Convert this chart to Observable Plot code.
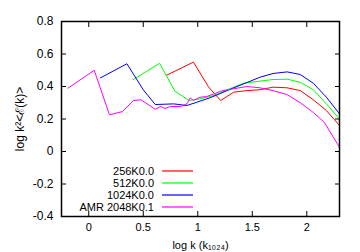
<!DOCTYPE html>
<html><head><meta charset="utf-8">
<script src="https://cdn.jsdelivr.net/npm/d3@7"></script>
<script src="https://cdn.jsdelivr.net/npm/@observablehq/plot@0.6"></script>
<style>
body{margin:0;background:#fff;font-family:"Liberation Sans",Arial,sans-serif;}
</style>
</head><body><div id="wrap"></div>
<script>
const names = ["256K0.0", "512K0.0", "1024K0.0", "AMR 2048K0.1"];
const colors = ["#ff0000", "#00ff00", "#0000ff", "#ff00ff"];
const xTicks = [0, 0.5, 1, 1.5, 2];
const yTicks = [-0.4, -0.2, 0, 0.2, 0.4, 0.6, 0.8];

const x256 = [0.71, 0.96, 1.10, 1.21, 1.33, 1.45, 1.57, 1.69, 1.82, 1.94, 2.06, 2.18, 2.30];
const y256 = [0.468, 0.55, 0.396, 0.314, 0.365, 0.375, 0.38, 0.396, 0.392, 0.375, 0.318, 0.252, 0.16];

const x512 = [0.41, 0.65, 0.79, 0.92, 1.02, 1.15, 1.27, 1.42, 1.57, 1.69, 1.82, 1.94, 2.06, 2.18, 2.30];
const y512 = [0.443, 0.543, 0.371, 0.314, 0.324, 0.345, 0.38, 0.42, 0.433, 0.443, 0.445, 0.426, 0.38, 0.293, 0.20];

const x1024 = [0.107, 0.35, 0.50, 0.61, 0.78, 0.90, 0.99, 1.11, 1.27, 1.42, 1.57, 1.69, 1.82, 1.94, 2.06, 2.18, 2.30];
const y1024 = [0.453, 0.54, 0.38, 0.289, 0.293, 0.283, 0.303, 0.33, 0.375, 0.416, 0.457, 0.48, 0.49, 0.474, 0.42, 0.334, 0.232];

const xAmr = [-0.19, 0.05, 0.19, 0.31, 0.41, 0.48, 0.61, 0.66, 0.70, 0.75, 0.84, 0.90, 0.93, 0.96, 1.02, 1.08, 1.15, 1.21, 1.27, 1.33, 1.45, 1.57, 1.69, 1.82, 1.94, 2.06, 2.16, 2.30];
const yAmr = [0.39, 0.50, 0.226, 0.246, 0.314, 0.318, 0.26, 0.277, 0.265, 0.277, 0.277, 0.293, 0.33, 0.314, 0.334, 0.338, 0.355, 0.371, 0.38, 0.386, 0.40, 0.392, 0.375, 0.35, 0.30, 0.24, 0.18, 0.026];

const seriesX = [x256, x512, x1024, xAmr];
const seriesY = [y256, y512, y1024, yAmr];
const data = [];
seriesX.forEach((xs, i) => xs.forEach((v, j) => data.push({s: names[i], x: v, y: seriesY[i][j]})));

const font = "'Liberation Sans', Arial, sans-serif";
const blank = () => "";
const chart = Plot.plot({
  width: 360, height: 252,
  marginLeft: 61, marginRight: 21, marginTop: 21, marginBottom: 36,
  style: {fontFamily: font, fontSize: "11px", color: "black", background: "white"},
  x: {domain: [-0.25, 2.3]},
  y: {domain: [-0.4, 0.8]},
  color: {domain: names, range: colors},
  marks: [
    Plot.axisX({ticks: xTicks, tickSize: -5, tickPadding: 12, tickFormat: d => String(d), label: "log k (k₁₀₂₄)", labelAnchor: "center", labelArrow: "none", labelOffset: 32}),
    Plot.axisX({anchor: "top", ticks: xTicks, tickSize: -5, tickFormat: blank, label: null}),
    Plot.axisY({ticks: yTicks, tickSize: -5, tickPadding: 13, tickFormat: d => String(d), label: "log k²<ℰ(k)>", labelAnchor: "center", labelArrow: "none", labelOffset: 46, fontSize: 12}),
    Plot.axisY({anchor: "right", ticks: yTicks, tickSize: -5, tickFormat: blank, label: null}),
    Plot.line(data, {x: "x", y: "y", z: "s", stroke: "s", strokeWidth: 1}),
    Plot.frame({stroke: "black", strokeWidth: 1.5})
  ]
});
document.getElementById("wrap").appendChild(chart);

// legend inside the plot (bottom-left), drawn into the same SVG
const svg = d3.select(chart);
const g = svg.append("g").attr("font-family", font).attr("font-size", 11);
names.forEach((n, i) => {
  const yy = 171 + i * 12;
  g.append("text").attr("x", 154).attr("y", yy).attr("dy", "0.35em")
    .attr("text-anchor", "end").attr("fill", "black").text(n);
  g.append("path").attr("d", `M162,${yy}H193`)
    .attr("fill", "none").attr("stroke", colors[i]).attr("stroke-width", 1.2);
});
</script>
</body></html>
